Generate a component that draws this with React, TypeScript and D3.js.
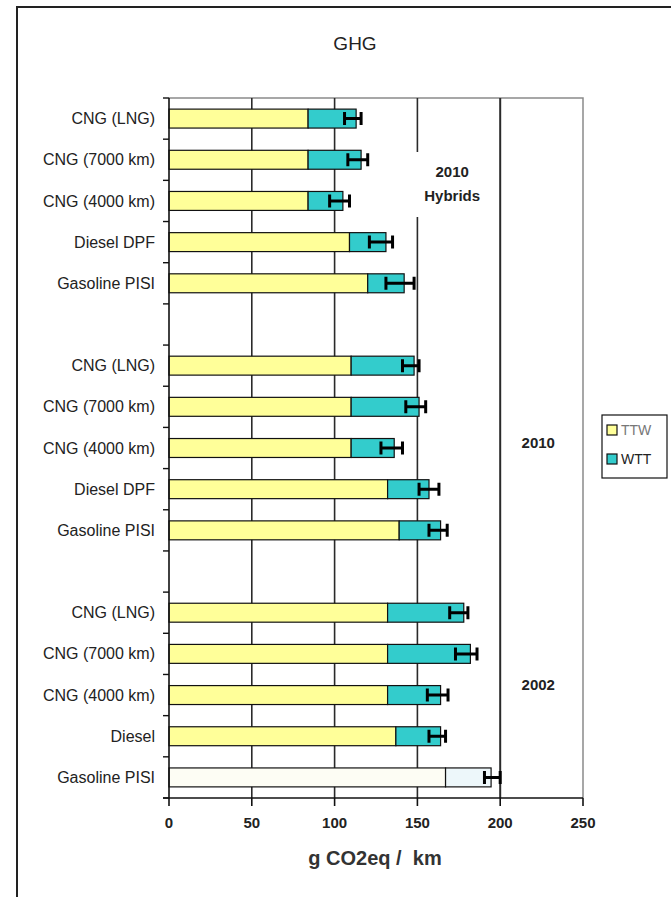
import React, { useEffect, useRef } from 'react';
import * as d3 from 'd3';

// one row per slot, top to bottom; '' rows are the gaps between groups
const labels = [
  'CNG (LNG)', 'CNG (7000 km)', 'CNG (4000 km)', 'Diesel DPF', 'Gasoline PISI', '',
  'CNG (LNG)', 'CNG (7000 km)', 'CNG (4000 km)', 'Diesel DPF', 'Gasoline PISI', '',
  'CNG (LNG)', 'CNG (7000 km)', 'CNG (4000 km)', 'Diesel', 'Gasoline PISI',
];
const ttw = [84, 84, 84, 109, 120, null, 110, 110, 110, 132, 139, null, 132, 132, 132, 137, 167];
const wtt = [29, 32, 21, 22, 22, null, 38, 41, 26, 25, 25, null, 46, 50, 32, 27, 27.5];
const errLow = [106, 108, 97, 121, 131, null, 141, 143, 128, 151, 157, null, 169.5, 173, 156, 157, 190.5];
const errHigh = [116, 120, 109, 135, 148, null, 151, 155, 141, 163, 168, null, 180.5, 186, 168.5, 167, 200];
// the 2002 gasoline reference bar is drawn pale
const pale = [false, false, false, false, false, false, false, false, false, false, false, false, false, false, false, false, true];

const xTicks = [0, 50, 100, 150, 200, 250];
const groupNotes = [
  { lines: ['2010', 'Hybrids'], xVal: 171, row: 1.92 },
  { lines: ['2010'], xVal: 223, row: 8.5 },
  { lines: ['2002'], xVal: 223, row: 14.38 },
];
const legendItems = [
  { key: 'TTW', color: '#FFFF99', text: '#777' },
  { key: 'WTT', color: '#33CCCC', text: '#222' },
];

const W = 671;
const H = 897;
const margin = { top: 98, left: 169, right: 88, bottom: 99 };
const font = '"Liberation Sans", Arial, sans-serif';

const Chart: React.FC = () => {
  const svgRef = useRef<SVGSVGElement>(null);

  useEffect(() => {
    if (!svgRef.current) return;
    const svg = d3.select(svgRef.current);
    svg.selectAll('*').remove();

    const x0 = margin.left;
    const x1 = W - margin.right;
    const y0 = margin.top;
    const y1 = H - margin.bottom;

    const x = d3.scaleLinear().domain([0, 250]).range([x0, x1]);
    const pad = 0.54;
    const y = d3.scaleBand<number>()
      .domain(d3.range(labels.length))
      .range([y0, y1])
      .paddingInner(pad)
      .paddingOuter(pad / 2);
    const step = y.step();
    const bh = y.bandwidth();
    const boundary = (i: number) => y0 + i * step;

    // page frame
    svg.append('rect')
      .attr('x', 17).attr('y', 7)
      .attr('width', 700).attr('height', 950)
      .attr('fill', 'white')
      .attr('stroke', '#222').attr('stroke-width', 2);

    svg.append('text')
      .attr('x', 355).attr('y', 50)
      .attr('text-anchor', 'middle')
      .attr('font-family', font).attr('font-size', 19)
      .attr('fill', '#222')
      .text('GHG');

    // plot frame (top and right, grey)
    svg.append('path')
      .attr('d', `M${x0},${y0}H${x1}V${y1}`)
      .attr('fill', 'none').attr('stroke', '#8a8a8a').attr('stroke-width', 1.5);

    // vertical grid lines (the 150 line is broken around the hybrids note)
    xTicks.slice(1, 5).forEach(t => {
      const gx = x(t);
      const segs: [number, number][] = t === 150
        ? [[y0, 152], [217, y1]]
        : [[y0, y1]];
      segs.forEach(([a, b]) => {
        svg.append('line')
          .attr('x1', gx).attr('x2', gx).attr('y1', a).attr('y2', b)
          .attr('stroke', '#2a2a2a').attr('stroke-width', t === 200 ? 2 : 1.6);
      });
    });

    // bars
    const rows = d3.range(labels.length).filter(i => ttw[i] !== null);
    const g = svg.append('g');
    rows.forEach(i => {
      const by = y(i) as number;
      const a = ttw[i] as number;
      const b = a + (wtt[i] as number);
      g.append('rect')
        .attr('x', x(0)).attr('y', by)
        .attr('width', x(a) - x(0)).attr('height', bh)
        .attr('fill', pale[i] ? '#FDFDF4' : '#FFFF99')
        .attr('stroke', '#111').attr('stroke-width', 1.2);
      g.append('rect')
        .attr('x', x(a)).attr('y', by)
        .attr('width', x(b) - x(a)).attr('height', bh)
        .attr('fill', pale[i] ? '#EDF7FA' : '#33CCCC')
        .attr('stroke', '#111').attr('stroke-width', 1.2);
    });

    // error bars
    rows.forEach(i => {
      const cy = (y(i) as number) + bh / 2;
      const lo = x(errLow[i] as number);
      const hi = x(errHigh[i] as number);
      const cap = 6.5;
      g.append('path')
        .attr('d', `M${lo},${cy}H${hi}M${lo},${cy - cap}V${cy + cap}M${hi},${cy - cap}V${cy + cap}`)
        .attr('fill', 'none').attr('stroke', '#000').attr('stroke-width', 3);
    });

    // left axis with ticks at row boundaries
    svg.append('line')
      .attr('x1', x0).attr('x2', x0).attr('y1', y0).attr('y2', y1)
      .attr('stroke', '#111').attr('stroke-width', 1.6);
    d3.range(labels.length + 1).forEach(i => {
      svg.append('line')
        .attr('x1', x0 - 6).attr('x2', x0).attr('y1', boundary(i)).attr('y2', boundary(i))
        .attr('stroke', '#111').attr('stroke-width', 1.4);
    });
    labels.forEach((l, i) => {
      if (!l) return;
      svg.append('text')
        .attr('x', 155).attr('y', (y(i) as number) + bh / 2)
        .attr('dy', '0.35em')
        .attr('text-anchor', 'end')
        .attr('font-family', font).attr('font-size', 16)
        .attr('fill', '#222')
        .text(l);
    });

    // bottom axis
    svg.append('line')
      .attr('x1', x0 - 6).attr('x2', x1).attr('y1', y1).attr('y2', y1)
      .attr('stroke', '#111').attr('stroke-width', 1.6);
    xTicks.forEach(t => {
      svg.append('line')
        .attr('x1', x(t)).attr('x2', x(t)).attr('y1', y1).attr('y2', y1 + 8)
        .attr('stroke', '#111').attr('stroke-width', 1.6);
      svg.append('text')
        .attr('x', x(t)).attr('y', 828)
        .attr('text-anchor', 'middle')
        .attr('font-family', font).attr('font-size', 15).attr('font-weight', 'bold')
        .attr('fill', '#222')
        .text(t);
    });
    svg.append('text')
      .attr('x', 375).attr('y', 865)
      .attr('text-anchor', 'middle')
      .attr('font-family', font).attr('font-size', 20).attr('font-weight', 'bold')
      .attr('fill', '#333')
      .attr('xml:space', 'preserve')
      .style('white-space', 'pre')
      .text('g CO2eq /  km');

    // group notes
    groupNotes.forEach(n => {
      const t = svg.append('text')
        .attr('text-anchor', 'middle')
        .attr('font-family', font).attr('font-size', 15).attr('font-weight', 'bold')
        .attr('fill', '#222');
      n.lines.forEach((line, k) => {
        t.append('tspan')
          .attr('x', x(n.xVal))
          .attr('y', y0 + n.row * step + k * 24)
          .text(line);
      });
    });

    // legend
    const lg = svg.append('g').attr('transform', 'translate(602,415)');
    lg.append('rect')
      .attr('width', 65).attr('height', 63)
      .attr('fill', 'white').attr('stroke', '#111').attr('stroke-width', 1.2);
    legendItems.forEach((d, k) => {
      lg.append('rect')
        .attr('x', 5).attr('y', 10 + k * 29)
        .attr('width', 10).attr('height', 10)
        .attr('fill', d.color).attr('stroke', '#111').attr('stroke-width', 1.2);
      lg.append('text')
        .attr('x', 19).attr('y', 20 + k * 29)
        .attr('font-family', font).attr('font-size', 14)
        .attr('fill', d.text)
        .text(d.key);
    });
  }, []);

  return <svg ref={svgRef} width={W} height={H} style={{ display: 'block' }} />;
};

export default function App() {
  return (
    <div style={{ position: 'absolute', left: 0, top: 0, width: W, height: H, overflow: 'hidden', background: 'white' }}>
      <Chart />
    </div>
  );
}
